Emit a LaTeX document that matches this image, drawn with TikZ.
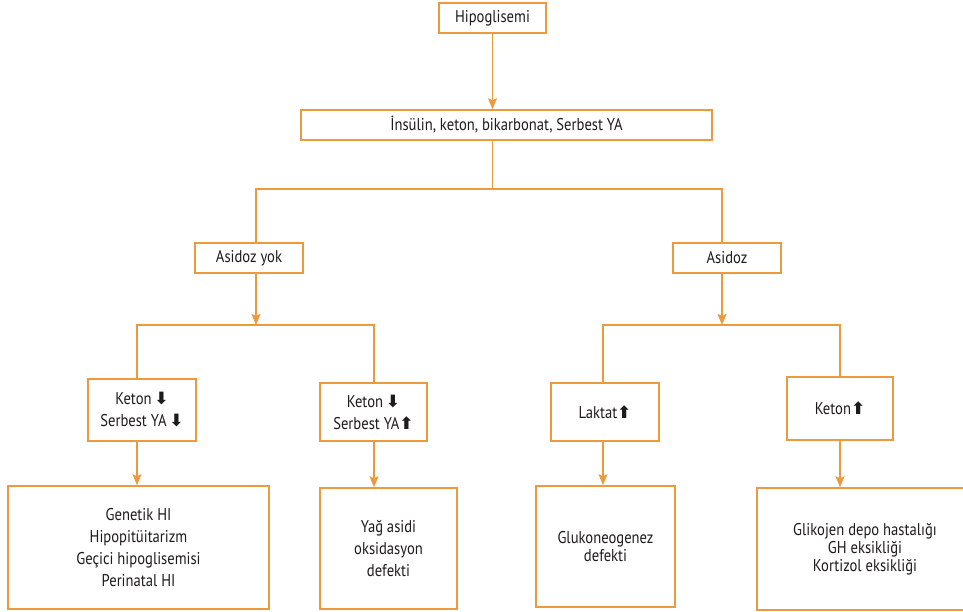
\documentclass[tikz,border=0pt]{standalone}
\usepackage{fontspec}
\setmainfont{PT Sans}[FakeStretch=0.86]
\newfontfamily\okfont{DejaVu Sans}
\usetikzlibrary{arrows.meta}
\definecolor{akisturuncu}{HTML}{EC9A3C}
\definecolor{akisyazi}{HTML}{1E1B1C}
\newcommand{\azalis}{{\okfont\bfseries ⬇}}
\newcommand{\artis}{{\okfont\bfseries ⬆}}

\begin{document}
\begin{tikzpicture}[x=1pt, y=-1pt, font=\fontsize{17}{22}\selectfont,
  >={Stealth[length=11pt,width=9pt,inset=2pt]},
  kutu/.style={draw=akisturuncu, line width=1.5pt, fill=white, text=akisyazi, align=center, inner sep=0pt},
  sik/.style={font=\fontsize{17}{18}\selectfont},
  cizgi/.style={draw=akisturuncu, line width=1.5pt},
  ok/.style={cizgi, ->}]
  \useasboundingbox (0,0) rectangle (963,612);
  % kutular
  \node[kutu, minimum width=107pt, minimum height=30pt] (hipo) at (492.5,18) {Hipoglisemi};
  \node[kutu, minimum width=411pt, minimum height=30pt] (ins) at (506.5,125) {İnsülin, keton, bikarbonat, Serbest YA};
  \node[kutu, minimum width=108pt, minimum height=30pt] (yok) at (249,258) {Asidoz yok};
  \node[kutu, minimum width=108pt, minimum height=30pt] (asidoz) at (727,258) {Asidoz};
  \node[kutu, minimum width=108pt, minimum height=62pt] (kdd) at (142,410) {Keton\,\azalis\\Serbest YA\,\azalis};
  \node[kutu, minimum width=107pt, minimum height=58pt] (kdu) at (373.5,412) {Keton\,\azalis\\Serbest YA\artis};
  \node[kutu, minimum width=108pt, minimum height=58pt] (laktat) at (605,412) {Laktat\artis};
  \node[kutu, minimum width=106pt, minimum height=63pt] (keton) at (840,408.5) {Keton\artis};
  \node[kutu, minimum width=261pt, minimum height=123pt] (genetik) at (138.5,547.5) {Genetik HI\\Hipopitüitarizm\\Geçici hipoglisemisi\\Perinatal HI};
  \node[kutu, minimum width=137pt, minimum height=121pt] (yag) at (388.5,548.5) {Yağ asidi\\oksidasyon\\defekti};
  \node[kutu, sik, minimum width=139pt, minimum height=121pt] (gluko) at (605.5,546.5) {Glukoneogenez\\defekti};
  \node[kutu, sik, minimum width=216pt, minimum height=122pt] (glikojen) at (865,549) {Glikojen depo hastalığı\\GH eksikliği\\Kortizol eksikliği};
  % dallanma noktalari
  \coordinate (ustsol) at (256,189);
  \coordinate (ustsag) at (722,189);
  \coordinate (sol1) at (137,325);
  \coordinate (sol2) at (374,325);
  \coordinate (sag1) at (603,325);
  \coordinate (sag2) at (840,325);
  % baglantilar
  \draw[ok] (hipo) -- (ins.north -| hipo);
  \draw[cizgi] (ins.south -| hipo) -- (ustsol -| hipo);
  \draw[cizgi] (yok.north -| ustsol) |- (ustsag) -- (asidoz.north -| ustsag);
  \draw[ok] (yok.south -| ustsol) -- (sol1 -| ustsol);
  \draw[ok] (asidoz.south -| ustsag) -- (sag1 -| ustsag);
  \draw[cizgi] (kdd.north -| sol1) -- (sol1) -- (sol2) -- (kdu.north -| sol2);
  \draw[cizgi] (laktat.north -| sag1) -- (sag1) -- (sag2) -- (keton.north -| sag2);
  \draw[ok] (kdd.south -| sol1) -- (genetik.north -| sol1);
  \draw[ok] (kdu.south -| sol2) -- (yag.north -| sol2);
  \draw[ok] (laktat.south -| sag1) -- (gluko.north -| sag1);
  \draw[ok] (keton.south -| sag2) -- (glikojen.north -| sag2);
\end{tikzpicture}
\end{document}
